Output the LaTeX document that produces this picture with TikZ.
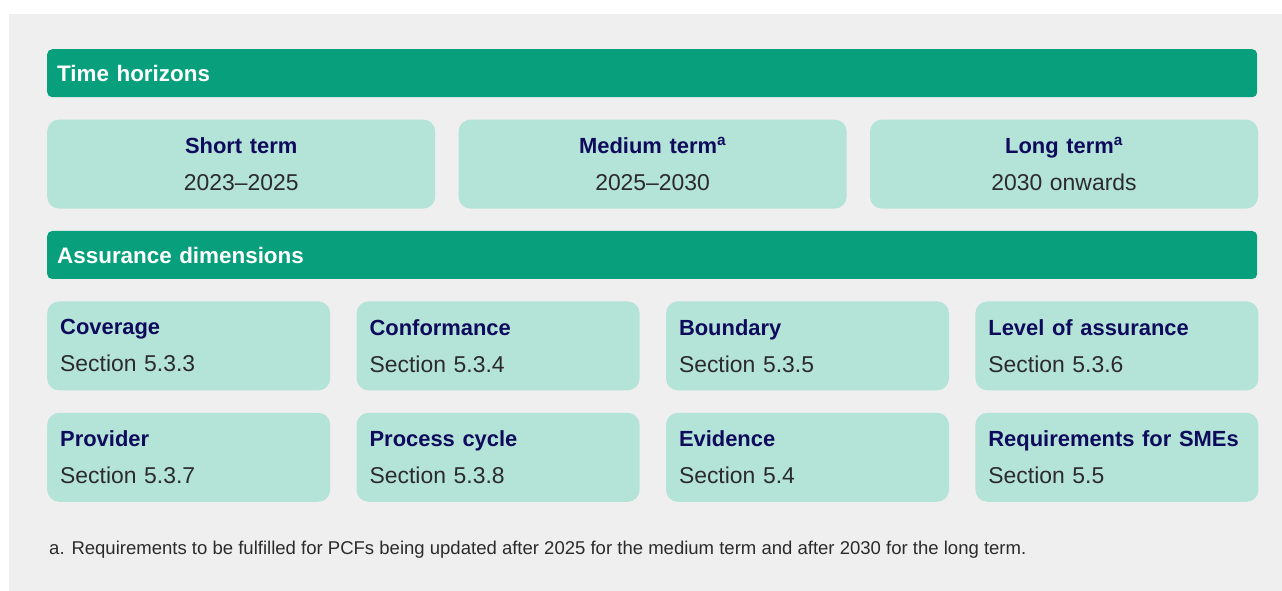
\documentclass[tikz,border=0pt]{standalone}
\usepackage{fontspec}
\setmainfont{Liberation Sans}
\usepackage{xcolor}
\usetikzlibrary{positioning}

\definecolor{hdrgreen}{HTML}{08A07C}
\definecolor{mint}{HTML}{B4E3D8}
\definecolor{navy}{HTML}{0F0B5C}
\definecolor{bodytxt}{HTML}{2B2B2B}
\definecolor{panel}{HTML}{EFEFEF}

\newcommand{\boxtitle}[1]{{\color{navy}\bfseries\fontsize{22}{28}\selectfont #1}}

\tikzset{
    header/.style={fill=hdrgreen, rounded corners=5bp, text=white,
        font=\bfseries\fontsize{22.5}{27}\selectfont,
        minimum height=48bp, text width=1190bp, inner xsep=10bp, inner ysep=0pt,
        align=left, anchor=north west},
    termbox/.style={fill=mint, rounded corners=12bp, text=bodytxt,
        font=\fontsize{23}{28}\selectfont,
        minimum height=89bp, text width=362bp, inner xsep=13bp, inner ysep=0pt,
        align=center, anchor=north west},
    dimbox/.style={termbox, text width=257bp, align=left},
}

\begin{document}
\begin{tikzpicture}[x=1bp, y=-1bp]
    \useasboundingbox[fill=white] (0,0) rectangle (1282,591);
    \fill[panel] (9,14) rectangle (1282,591);
    % time horizons
    \node[header] (th) at (47,49) {Time horizons};
    \node[termbox, below right=22bp and 0bp of th.south west] (short) {\boxtitle{Short term}\\[9bp]2023--2025};
    \node[termbox, right=23bp of short] (medium) {\boxtitle{Medium term\textsuperscript{a}}\\[9bp]2025--2030};
    \node[termbox, right=23bp of medium] (long) {\boxtitle{Long term\textsuperscript{a}}\\[9bp]2030 onwards};
    % assurance dimensions
    \node[header, below right=22bp and 0bp of short.south west] (ad) {Assurance dimensions};
    \node[dimbox, below right=22bp and 0bp of ad.south west] (coverage) {\boxtitle{Coverage}\\[9bp]Section 5.3.3};
    \node[dimbox, right=26bp of coverage] (conformance) {\boxtitle{Conformance}\\[9bp]Section 5.3.4};
    \node[dimbox, right=26bp of conformance] (boundary) {\boxtitle{Boundary}\\[9bp]Section 5.3.5};
    \node[dimbox, right=26bp of boundary] (level) {\boxtitle{Level of assurance}\\[9bp]Section 5.3.6};
    \node[dimbox, below right=22bp and 0bp of coverage.south west] (provider) {\boxtitle{Provider}\\[9bp]Section 5.3.7};
    \node[dimbox, right=26bp of provider] (process) {\boxtitle{Process cycle}\\[9bp]Section 5.3.8};
    \node[dimbox, right=26bp of process] (evidence) {\boxtitle{Evidence}\\[9bp]Section 5.4};
    \node[dimbox, right=26bp of evidence] (smes) {\boxtitle{Requirements for SMEs}\\[9bp]Section 5.5};
    % footnote
    \node[anchor=west, inner sep=0pt, text=bodytxt, font=\fontsize{18.6}{22}\selectfont] (note) at (49,550)
        {a. Requirements to be fulfilled for PCFs being updated after 2025 for the medium term and after 2030 for the long term.};
\end{tikzpicture}
\end{document}
